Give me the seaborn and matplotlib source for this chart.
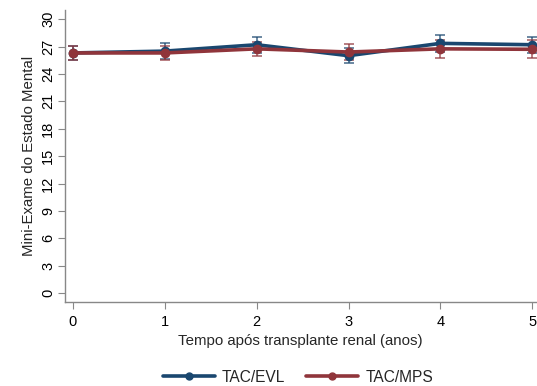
import matplotlib
matplotlib.use("Agg")
import matplotlib.pyplot as plt
import seaborn as sns
import pandas as pd
from matplotlib.lines import Line2D

years = [0, 1, 2, 3, 4, 5]
evl_mean = [26.3, 26.5, 27.2, 26.0, 27.35, 27.2]
evl_err = [0.8, 0.85, 0.9, 0.8, 0.9, 0.9]
mps_mean = [26.3, 26.3, 26.75, 26.4, 26.75, 26.7]
mps_err = [0.75, 0.8, 0.8, 0.85, 0.95, 1.0]
groups = ["TAC/EVL", "TAC/MPS"]
colors = ["#1a476f", "#90353b"]
yticks = list(range(0, 31, 3))

sns.set_theme(style="white")
plt.rcParams["font.family"] = ["Liberation Sans", "DejaVu Sans"]

df = pd.DataFrame({
    "ano": years * 2,
    "valor": evl_mean + mps_mean,
    "grupo": [groups[0]] * len(years) + [groups[1]] * len(years),
})

fig = plt.figure(figsize=(5.37, 3.86), dpi=100)
ax = fig.add_axes([0.121, 0.2176, 0.877, 0.7564])

for g, c, m, e in zip(groups, colors, [evl_mean, mps_mean], [evl_err, mps_err]):
    ax.errorbar(years, m, yerr=e, fmt="none", ecolor=c, alpha=0.75,
                elinewidth=1.2, capsize=3.5, capthick=1.2, zorder=2)
    sns.lineplot(data=df[df["grupo"] == g], x="ano", y="valor", ax=ax,
                 color=c, linewidth=2.6, marker="o", markersize=7,
                 markeredgewidth=0, legend=False, zorder=3)

ax.set_xlim(-0.087, 5.04)
ax.set_ylim(-0.98, 31.0)
ax.set_xticks(years)
ax.set_yticks(yticks)
ax.set_yticklabels([str(t) for t in yticks], rotation=90, va="center")
ax.tick_params(axis="both", length=5, width=0.8, color="#888888",
               labelsize=10.5, labelcolor="#000000", left=True, bottom=True)
ax.tick_params(axis="y", pad=2)
ax.tick_params(axis="x", pad=4)
for s in ["top", "right"]:
    ax.spines[s].set_visible(False)
for s in ["left", "bottom"]:
    ax.spines[s].set_color("#888888")
    ax.spines[s].set_linewidth(1.0)
ax.set_xlabel("Tempo após transplante renal (anos)", fontsize=10.8, labelpad=4)
ax.set_ylabel("Mini-Exame do Estado Mental", fontsize=10.8, labelpad=4)
ax.grid(False)

handles = [Line2D([0], [0], color=c, linewidth=2.6, marker="o", markersize=5)
           for c in colors]
fig.legend(handles, groups, loc="center", bbox_to_anchor=(0.555, 0.023),
           ncol=2, frameon=False, fontsize=11.2, handlelength=3.35,
           columnspacing=1.35, handletextpad=0.45)

fig.savefig("out.png", dpi=100)
